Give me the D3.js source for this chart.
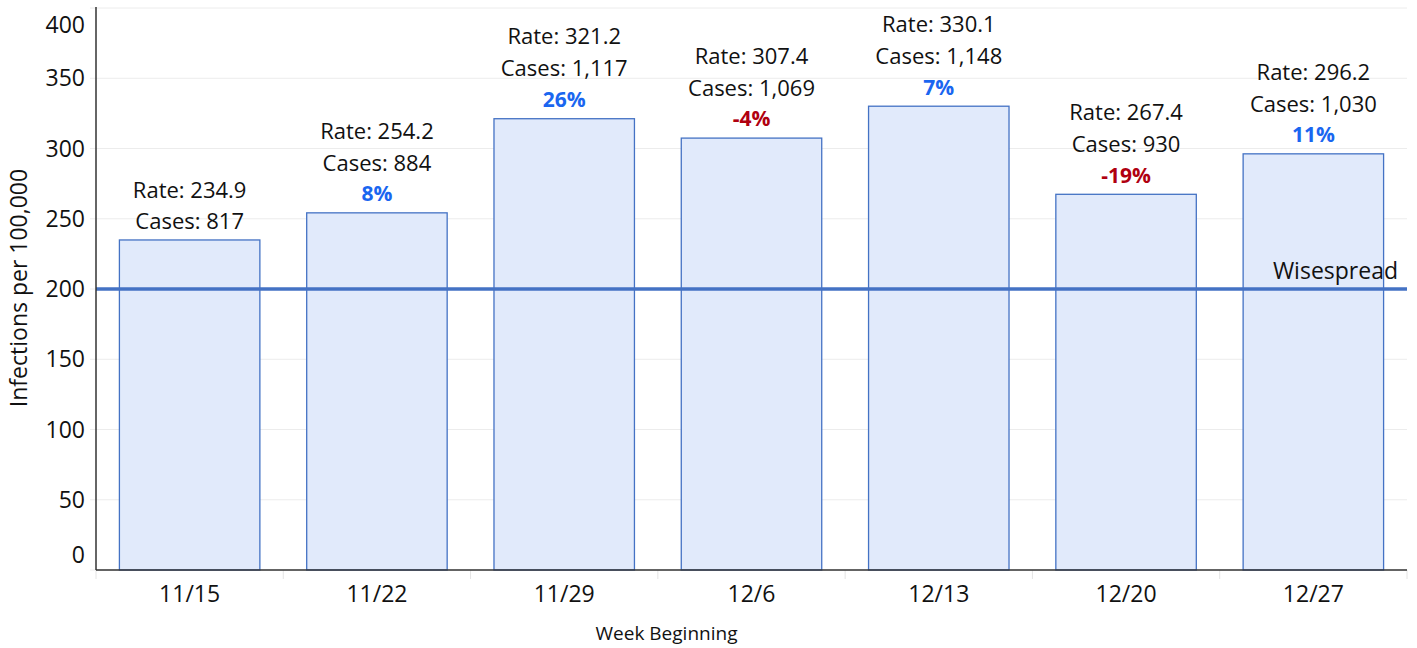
<!DOCTYPE html>
<meta charset="utf-8">
<script src="https://d3js.org/d3.v7.min.js"></script>
<style>
  body { margin: 0; background: #fff; }
  text { font-family: "Open Sans", sans-serif; }
</style>
<div id="chart"></div>
<script>

// data
var weeks = ["11/15", "11/22", "11/29", "12/6", "12/13", "12/20", "12/27"]
var rates = [234.9, 254.2, 321.2, 307.4, 330.1, 267.4, 296.2]
var cases = ["817", "884", "1,117", "1,069", "1,148", "930", "1,030"]
var changes = [null, 8, 26, -4, 7, -19, 11]
var yTicks = [0, 50, 100, 150, 200, 250, 300, 350, 400]
var threshold = 200

var width = 1417,
    height = 648
var margin = {top: 8, right: 10, bottom: 78, left: 96}

var svg = d3.select("#chart")
  .append("svg")
    .attr("width", width)
    .attr("height", height)

var x = d3.scaleBand()
  .domain(weeks)
  .range([margin.left, width - margin.right])
  .paddingInner(0.25)
  .paddingOuter(0.125)

var y = d3.scaleLinear()
  .domain([0, 400])
  .range([height - margin.bottom, margin.top])

// gridlines
svg.selectAll(".grid")
  .data(yTicks)
  .enter()
  .append("line")
    .attr("x1", margin.left - 6)
    .attr("x2", width - margin.right)
    .attr("y1", function(d){ return y(d) })
    .attr("y2", function(d){ return y(d) })
    .attr("stroke", "#ececec")
    .attr("stroke-width", 1)

// y tick labels (top and bottom pulled inside like the original)
svg.selectAll(".ylab")
  .data(yTicks)
  .enter()
  .append("text")
    .attr("x", margin.left - 11)
    .attr("y", function(d){
      var p = y(d)
      if (d == 400) p = y(d) + 17
      if (d == 0) p = y(d) - 15
      return p
    })
    .attr("dy", "0.35em")
    .attr("text-anchor", "end")
    .style("font-size", "23px")
    .attr("fill", "#111")
    .text(function(d){ return d })

// x tick marks at category boundaries
var bounds = weeks.map(function(w){ return x(w) - x.step() * x.paddingInner() / 2 })
bounds.push(width - margin.right)
svg.selectAll(".xtick")
  .data(bounds)
  .enter()
  .append("line")
    .attr("x1", function(d){ return d })
    .attr("x2", function(d){ return d })
    .attr("y1", y(0))
    .attr("y2", y(0) + 9)
    .attr("stroke", "#e4e4e4")

// bars
svg.selectAll(".bar")
  .data(weeks)
  .enter()
  .append("rect")
    .attr("x", function(d){ return x(d) })
    .attr("y", function(d, i){ return y(rates[i]) })
    .attr("width", x.bandwidth())
    .attr("height", function(d, i){ return y(0) - y(rates[i]) })
    .attr("fill", "#e1eafb")
    .attr("stroke", "#4472c4")
    .attr("stroke-width", 1.3)

// threshold line
svg.append("line")
  .attr("x1", margin.left)
  .attr("x2", width - margin.right)
  .attr("y1", y(threshold))
  .attr("y2", y(threshold))
  .attr("stroke", "#4472c4")
  .attr("stroke-width", 3.5)

svg.append("text")
  .attr("x", width - 19)
  .attr("y", y(threshold) - 10)
  .attr("text-anchor", "end")
  .style("font-size", "23px")
  .attr("fill", "#111")
  .text("Wisespread")

// axes lines
svg.append("line")
  .attr("x1", margin.left).attr("x2", margin.left)
  .attr("y1", y(400) - 1).attr("y2", y(0))
  .attr("stroke", "#333").attr("stroke-width", 1.5)
svg.append("line")
  .attr("x1", margin.left).attr("x2", width - margin.right)
  .attr("y1", y(0)).attr("y2", y(0))
  .attr("stroke", "#333").attr("stroke-width", 1.5)

// bar annotations
var g = svg.selectAll(".ann")
  .data(weeks)
  .enter()
  .append("g")
    .attr("transform", function(d, i){
      return "translate(" + (x(d) + x.bandwidth() / 2) + "," + y(rates[i]) + ")"
    })

g.append("text")
  .attr("text-anchor", "middle")
  .attr("y", function(d, i){ return changes[i] == null ? -50 : -82 })
  .attr("dy", "0.35em")
  .style("font-size", "22px")
  .attr("fill", "#111")
  .text(function(d, i){ return "Rate: " + rates[i].toFixed(1) })

g.append("text")
  .attr("text-anchor", "middle")
  .attr("y", function(d, i){ return changes[i] == null ? -19 : -50 })
  .attr("dy", "0.35em")
  .style("font-size", "22px")
  .attr("fill", "#111")
  .text(function(d, i){ return "Cases: " + cases[i] })

g.filter(function(d, i){ return changes[i] != null })
  .append("text")
  .attr("text-anchor", "middle")
  .attr("y", -19)
  .attr("dy", "0.35em")
  .style("font-size", "21px")
  .style("font-weight", "bold")
  .attr("fill", function(d){ var c = changes[weeks.indexOf(d)]; return c < 0 ? "#b00010" : "#1a66f0" })
  .text(function(d){ return changes[weeks.indexOf(d)] + "%" })

// x labels
svg.selectAll(".xlab")
  .data(weeks)
  .enter()
  .append("text")
    .attr("x", function(d){ return x(d) + x.bandwidth() / 2 })
    .attr("y", y(0) + 24)
    .attr("dy", "0.35em")
    .attr("text-anchor", "middle")
    .style("font-size", "23px")
    .attr("fill", "#111")
    .text(function(d){ return d })

// axis titles
svg.append("text")
  .attr("x", (margin.left + width - margin.right) / 2 - 85)
  .attr("y", 633)
  .attr("dy", "0.35em")
  .attr("text-anchor", "middle")
  .style("font-size", "19px")
  .attr("fill", "#111")
  .text("Week Beginning")

svg.append("text")
  .attr("transform", "translate(19," + 288 + ") rotate(-90)")
  .attr("dy", "0.35em")
  .attr("text-anchor", "middle")
  .style("font-size", "23px")
  .attr("fill", "#111")
  .text("Infections per 100,000")

</script>
